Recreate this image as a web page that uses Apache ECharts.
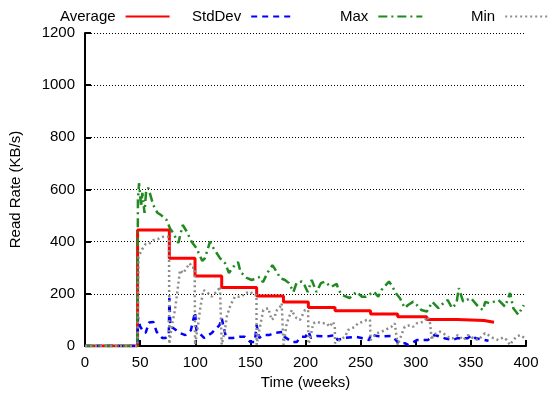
<!DOCTYPE html>
<html>
<head>
<meta charset="utf-8">
<script src="https://cdn.jsdelivr.net/npm/echarts@6/dist/echarts.min.js"></script>
<style>
html,body{margin:0;padding:0;background:#fff;}
#chart{width:552px;height:395px;}
</style>
</head>
<body>
<div id="chart"></div>
<script>
// ---- data (weeks, values in KB/s) ----
const avgWeeks = [0, 47.7, 76.5, 99.8, 124, 155.7, 180, 202.6, 226.8, 259, 283.6, 310, 337.7, 362, 371];
const avgValues = [0, 445, 336, 268, 224, 192, 169, 148, 135, 123, 112, 102, 98, 91, 91];

const stdWeeks = [0, 47.7, 48, 50, 53, 55, 58, 62, 65, 70, 73, 76, 76.5, 77.5, 80, 86, 91, 96, 99.8, 101, 108, 115, 122, 124, 128, 134, 140, 145, 150, 154, 155.7, 158, 162, 167, 172, 179, 181, 188, 192, 196, 200, 202.6, 205, 210, 217, 222, 226.8, 229, 236, 246, 252, 258, 259, 265, 269, 278, 282, 284, 290, 293, 298, 301, 308, 311, 317, 322, 326, 333, 338, 347, 351, 354, 360, 366];
const stdValues = [0, 0, 110, 75, 55, 50, 90, 92, 54, 31, 31, 40, 185, 73, 69, 50, 42, 60, 130, 61, 31, 50, 80, 107, 31, 31, 35, 35, 15, 15, 80, 31, 42, 42, 50, 54, 35, 15, 15, 35, 35, 55, 31, 38, 37, 38, 42, 23, 31, 35, 30, 23, 45, 38, 37, 38, 23, 11, 11, 4, 15, 23, 23, 23, 42, 36, 30, 23, 30, 30, 42, 30, 25, 20];

const maxWeeks = [0, 47.5, 48, 49, 51, 52, 54, 55.5, 57.4, 62, 65.6, 69, 74, 77, 80, 84.7, 88.6, 92, 96.7, 101, 106.4, 108.8, 113.4, 116.4, 122.4, 127, 130.6, 134.5, 138.8, 141, 146.7, 151.2, 158.7, 161.4, 166, 170, 174, 177, 181.4, 185, 189, 192, 196.6, 199, 202, 205.6, 210, 214, 217.7, 223, 228.3, 230, 233, 240, 246.4, 251, 255, 262, 266, 269, 275.7, 278, 282, 285.7, 290, 293, 297.8, 301, 305, 310, 315, 320.5, 325, 329, 333, 337, 339, 343, 350, 356.7, 361, 363, 367, 375, 381, 385.5, 388.5, 393, 398];
const maxValues = [0, 0, 560, 624, 534, 587, 510, 598, 606, 540, 511, 502, 483, 452, 433, 395, 464, 441, 400, 376, 326, 337, 400, 376, 337, 318, 280, 303, 322, 284, 261, 253, 265, 245, 284, 310, 284, 261, 253, 241, 207, 243, 247, 234, 207, 253, 207, 241, 247, 226, 238, 215, 196, 184, 208, 189, 189, 208, 189, 215, 247, 234, 202, 183, 146, 157, 170, 157, 138, 132, 169, 145, 164, 176, 145, 164, 222, 170, 184, 151, 138, 169, 164, 176, 151, 203, 145, 120, 157];

const minWeeks = [0, 47.7, 48.5, 52, 55, 58, 62, 66, 70, 74, 76.2, 76.5, 78.6, 81.6, 83.2, 84.7, 86.2, 89, 92, 95, 97, 99.5, 99.8, 102.8, 104.3, 105.8, 107.3, 108.8, 111.8, 114.8, 117.8, 120.8, 122.4, 123.8, 124, 127, 128.5, 131.5, 133, 136, 142, 145, 150, 152.7, 155.5, 155.7, 157, 158.7, 161.7, 166.3, 169.3, 172.3, 173, 177, 178.4, 179.8, 180, 183, 187.5, 189, 192, 195, 198, 199.5, 202.4, 202.6, 204, 207, 210, 214.7, 219, 222, 225, 226.6, 226.8, 231, 236, 238.5, 245, 247.6, 252, 255.5, 258.5, 259, 264.6, 269, 272, 278, 281, 282.7, 283.6, 287, 288.7, 290, 294.8, 297.8, 301, 307, 308.4, 311, 313, 314.5, 315.6, 322, 325, 331, 334, 338.3, 343, 347.4, 352, 356.5, 359.8, 362.8, 365.8, 370.3, 375, 379.4, 382.5, 385.5, 388.5, 391.6, 394.6, 399];
const minValues = [0, 0, 342, 372, 391, 391, 406, 410, 418, 420, 418, 8, 74, 138, 189, 240, 291, 279, 298, 317, 300, 300, 5, 87, 138, 176, 215, 215, 202, 189, 202, 215, 228, 228, 5, 62, 112, 151, 165, 189, 189, 202, 208, 196, 196, 5, 36, 74, 138, 145, 100, 112, 132, 151, 164, 164, 5, 87, 138, 125, 106, 100, 125, 138, 138, 8, 23, 87, 93, 87, 87, 74, 93, 74, 11, 23, 36, 61, 74, 87, 93, 100, 100, 23, 49, 55, 61, 74, 87, 87, 4, 42, 61, 74, 80, 74, 87, 93, 100, 112, 87, 23, 42, 55, 49, 30, 30, 42, 23, 42, 30, 23, 36, 49, 42, 30, 23, 33, 23, 4, 23, 36, 42, 30];

const xTicks = {min: 0, max: 400, interval: 50};
const yTicks = {min: 0, max: 1200, interval: 200};

const zip = (xs, ys) => xs.map((x, i) => [x, ys[i]]);

const FONT = 'Liberation Sans';
const chart = echarts.init(document.getElementById('chart'), null, {renderer: 'canvas'});

function legendAt(name, left) {
  return {
    data: [name], left: left, top: 4, orient: 'horizontal', align: 'right',
    itemWidth: 44, itemHeight: 14, selectedMode: false,
    itemStyle: {opacity: 0, borderWidth: 0},
    textStyle: {fontFamily: FONT, fontSize: 15, color: '#000', padding: [0, 5, 0, 0]}
  };
}

chart.setOption({
  animation: false,
  backgroundColor: '#fff',
  textStyle: {fontFamily: FONT},
  grid: {left: 85, right: 26, top: 33, bottom: 49, containLabel: false},
  legend: [legendAt('Average', 55), legendAt('StdDev', 187), legendAt('Max', 335), legendAt('Min', 466)],
  xAxis: {
    type: 'value', min: xTicks.min, max: xTicks.max, interval: xTicks.interval,
    name: 'Time (weeks)', nameLocation: 'middle', nameGap: 28,
    nameTextStyle: {fontFamily: FONT, fontSize: 15, color: '#000'},
    axisLine: {lineStyle: {color: '#000', width: 2}},
    axisTick: {inside: true, length: 6, lineStyle: {color: '#000', width: 2}},
    axisLabel: {fontFamily: FONT, fontSize: 15, color: '#000', margin: 9, formatter: v => String(v)},
    splitLine: {show: false}
  },
  yAxis: {
    type: 'value', min: yTicks.min, max: yTicks.max, interval: yTicks.interval,
    name: 'Read Rate (KB/s)', nameLocation: 'middle', nameGap: 62,
    nameTextStyle: {fontFamily: FONT, fontSize: 15, color: '#000'},
    axisLine: {show: true, lineStyle: {color: '#000', width: 2}},
    axisTick: {show: true, inside: true, length: 6, lineStyle: {color: '#000', width: 2}},
    axisLabel: {fontFamily: FONT, fontSize: 15, color: '#000', margin: 10, formatter: v => String(v)},
    splitLine: {show: true, lineStyle: {color: '#000', width: 1, type: [1, 2]}}
  },
  series: [
    {name: 'Average', type: 'line', step: 'end', symbol: 'none', data: zip(avgWeeks, avgValues),
     lineStyle: {color: '#ff0000', width: 3}, itemStyle: {color: '#ff0000'}},
    {name: 'StdDev', type: 'line', symbol: 'none', data: zip(stdWeeks, stdValues),
     lineStyle: {color: '#0000ff', width: 2.5, type: [6, 5]}, itemStyle: {color: '#0000ff'}},
    {name: 'Max', type: 'line', symbol: 'none', data: zip(maxWeeks, maxValues),
     lineStyle: {color: '#1f8a1f', width: 2.5, type: [9, 4, 2, 4]}, itemStyle: {color: '#1f8a1f'}},
    {name: 'Min', type: 'line', symbol: 'none', data: zip(minWeeks, minValues),
     lineStyle: {color: '#8c8c8c', width: 2.5, type: [2, 3]}, itemStyle: {color: '#8c8c8c'}}
  ]
});
</script>
</body>
</html>
